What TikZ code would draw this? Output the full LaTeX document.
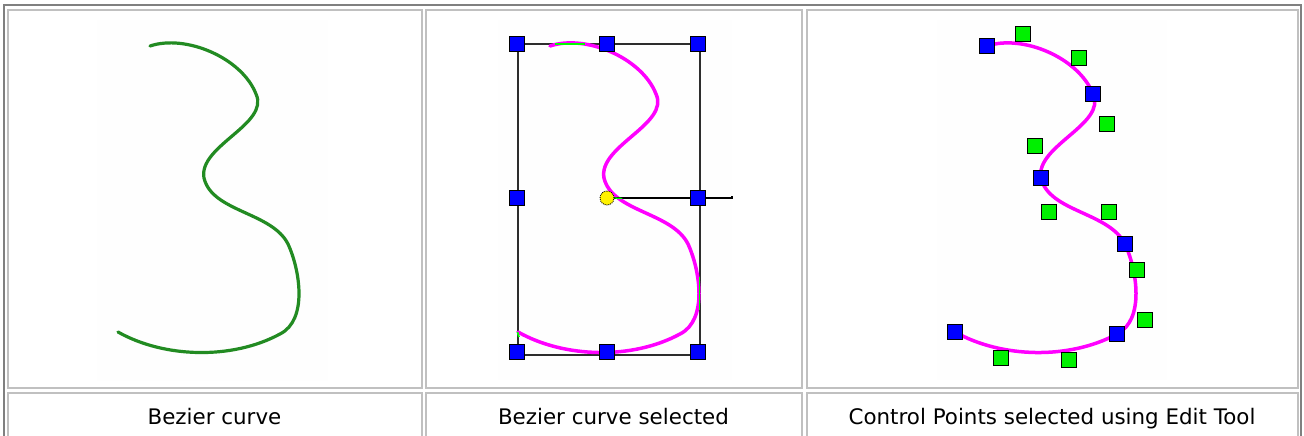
\documentclass[tikz,border=0pt]{standalone}
\usepackage{fontspec}
\setmainfont{DejaVu Sans}
\definecolor{outergray}{RGB}{128,128,128}
\definecolor{cellgray}{RGB}{192,192,192}
\definecolor{imgbg}{RGB}{254,254,254}
\definecolor{curvegreen}{RGB}{34,139,34}
\definecolor{mag}{RGB}{255,0,255}
\definecolor{hblue}{RGB}{0,0,255}
\definecolor{hgreen}{RGB}{0,240,0}
\definecolor{lime}{RGB}{0,255,0}
\definecolor{rectgray}{RGB}{45,45,45}
\newcommand\threepath{(987,46) .. controls (1023,34) and (1079,58) .. (1093,94) .. controls (1107,124) and (1035,146) .. (1041,178) .. controls (1049,212) and (1109,212) .. (1125,244) .. controls (1137,270) and (1145,320) .. (1117,334) .. controls (1069,360) and (1001,358) .. (955,332)}
\tikzset{
  outerline/.style={draw=outergray, line width=2pt},
  cellline/.style={draw=cellgray, line width=2pt},
  imgarea/.style={fill=imgbg},
  greencurve/.style={draw=curvegreen, line width=3.2pt, line join=round, line cap=round},
  magcurve/.style={draw=mag, line width=3.5pt, line join=round, line cap=round},
  boxline/.style={draw=rectgray, line width=2pt},
  handle/.style={rectangle, draw=black, line width=1.3pt, minimum size=15pt, inner sep=0pt},
  bluehandle/.style={handle, fill=hblue},
  greenhandle/.style={handle, fill=hgreen},
  pivot/.style={circle, draw=black, line width=0.9pt, densely dotted, fill=yellow, minimum size=14pt, inner sep=0pt},
  caption/.style={anchor=base, font=\fontsize{21.4}{25}\selectfont, text=black, inner sep=0pt},
  artifact/.style={draw=lime, line width=1.8pt}
}
\begin{document}
\begin{tikzpicture}[x=1pt,y=-1pt]
\useasboundingbox (0,0) rectangle (1304,436);
\fill[white] (0,0) rectangle (1304,436);
% outer table border
\draw[outerline] (4,437) -- (4,5) -- (1301,5) -- (1301,437);
% cells row 1
\draw[cellline] (8,10) rectangle (422,388);
\draw[cellline] (426,10) rectangle (802,388);
\draw[cellline] (807,10) rectangle (1298,388);
% cells row 2
\draw[cellline] (8,440) -- (8,393) -- (422,393) -- (422,440);
\draw[cellline] (426,440) -- (426,393) -- (802,393) -- (802,440);
\draw[cellline] (807,440) -- (807,393) -- (1298,393) -- (1298,440);
% image areas
\fill[imgarea] (97,20) rectangle (328,381);
\fill[imgarea] (498,20) rectangle (732,380);
\fill[imgarea] (937,20) rectangle (1167,380);
% panel 1
\begin{scope}[xshift=-837pt]
  \draw[greencurve] \threepath;
\end{scope}
% panel 2
\draw[boxline] (517.5,44) rectangle (699.5,354.5);
\begin{scope}[xshift=-437pt]
  \draw[magcurve] \threepath;
\end{scope}
\draw[artifact] (555,44) -- (585,44);
\draw[artifact] (699.5,277) -- (699.5,310);
\draw[artifact] (517.5,332) -- (519,337);
\node[pivot] (pv) at (607,198) {};
\coordinate (rh) at (732,198);
\draw[draw=black, line width=1.6pt] (pv.east) -- (rh) -- ++(0,-2.5);
\draw[artifact, line width=1.3pt] (pv.east) -- ++(8,0.5);
\node[bluehandle] (s1) at (517,44) {};
\node[bluehandle] (s2) at (607,44) {};
\node[bluehandle] (s3) at (698,44) {};
\node[bluehandle] (s4) at (517,198) {};
\node[bluehandle] (s5) at (698,198) {};
\node[bluehandle] (s6) at (517,352) {};
\node[bluehandle] (s7) at (607,352) {};
\node[bluehandle] (s8) at (698,352) {};
% panel 3
\draw[magcurve] \threepath;
\node[bluehandle] (a0) at (987,46) {};
\node[bluehandle] (a1) at (1093,94) {};
\node[bluehandle] (a2) at (1041,178) {};
\node[bluehandle] (a3) at (1125,244) {};
\node[bluehandle] (a4) at (1117,334) {};
\node[bluehandle] (a5) at (955,332) {};
\node[greenhandle] (c1) at (1023,34) {};
\node[greenhandle] (c2) at (1079,58) {};
\node[greenhandle] (c3) at (1107,124) {};
\node[greenhandle] (c4) at (1035,146) {};
\node[greenhandle] (c5) at (1049,212) {};
\node[greenhandle] (c6) at (1109,212) {};
\node[greenhandle] (c7) at (1137,270) {};
\node[greenhandle] (c8) at (1145,320) {};
\node[greenhandle] (c9) at (1069,360) {};
\node[greenhandle] (c10) at (1001,358) {};
% captions
\node[caption] (t1) at (214.5,424) {Bezier curve};
\node[caption] (t2) at (613.5,424) {Bezier curve selected};
\node[caption] (t3) at (1052,424) {Control Points selected using Edit Tool};
\end{tikzpicture}
\end{document}
